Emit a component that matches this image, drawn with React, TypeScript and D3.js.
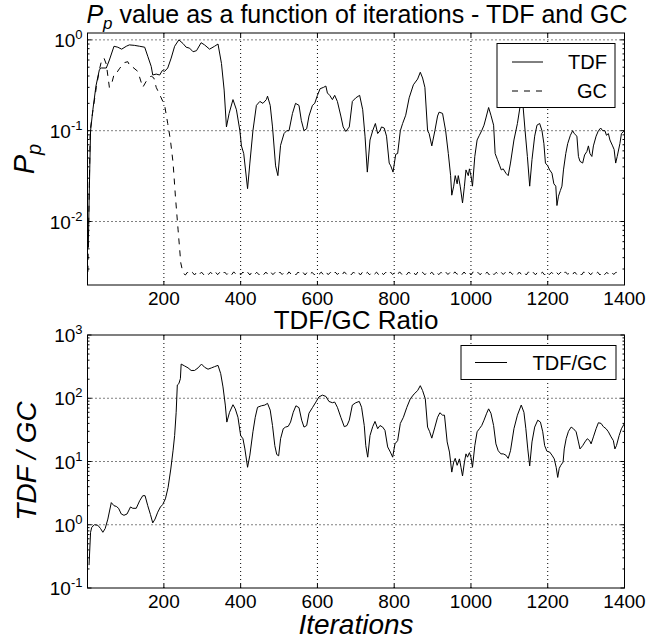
import React from "react";
import * as d3 from "d3";

// ---------------- data ----------------
const tdfIter = [3, 6, 9, 15, 23, 32, 37, 50, 58, 70, 80, 90, 102, 110, 123, 137, 150, 158, 167, 171, 180, 189, 196, 202, 210, 219, 228, 239, 250, 258, 267, 276, 285, 297, 306, 319, 332, 341, 350, 357, 363, 370, 380, 389, 398, 402, 408, 418, 424, 432, 441, 450, 458, 467, 470, 477, 483, 491, 497, 504, 513, 520, 526, 535, 543, 552, 558, 565, 572, 578, 587, 593, 600, 607, 616, 622, 626, 632, 639, 645, 652, 661, 667, 674, 683, 691, 700, 710, 718, 724, 730, 737, 744, 751, 757, 763, 767, 774, 780, 787, 791, 797, 804, 809, 816, 822, 830, 839, 850, 861, 868, 874, 880, 887, 891, 898, 906, 913, 917, 926, 934, 941, 947, 950, 955, 959, 964, 967, 972, 978, 983, 987, 993, 996, 1000, 1004, 1010, 1016, 1022, 1028, 1034, 1039, 1046, 1052, 1059, 1063, 1069, 1075, 1079, 1084, 1091, 1097, 1103, 1112, 1121, 1130, 1136, 1141, 1147, 1153, 1159, 1166, 1172, 1179, 1185, 1190, 1194, 1200, 1205, 1211, 1216, 1221, 1224, 1228, 1233, 1237, 1241, 1247, 1252, 1259, 1265, 1269, 1276, 1280, 1284, 1291, 1296, 1302, 1306, 1310, 1315, 1319, 1326, 1332, 1338, 1343, 1349, 1353, 1358, 1362, 1369, 1373, 1377, 1381, 1388, 1392, 1400];
const tdfValue = [0.0052, 0.025, 0.10, 0.17, 0.31, 0.47, 0.49, 0.49, 0.60, 0.85, 0.83, 0.79, 0.85, 0.88, 0.87, 0.85, 0.83, 0.66, 0.51, 0.41, 0.42, 0.41, 0.46, 0.45, 0.49, 0.63, 0.85, 1.0, 0.91, 0.83, 0.81, 0.74, 0.76, 0.93, 0.88, 0.79, 0.85, 0.90, 0.55, 0.28, 0.11, 0.155, 0.22, 0.17, 0.10, 0.068, 0.056, 0.023, 0.044, 0.10, 0.19, 0.21, 0.20, 0.22, 0.24, 0.19, 0.11, 0.041, 0.032, 0.069, 0.093, 0.10, 0.10, 0.155, 0.20, 0.19, 0.13, 0.10, 0.105, 0.145, 0.19, 0.20, 0.245, 0.29, 0.30, 0.31, 0.26, 0.245, 0.22, 0.245, 0.21, 0.145, 0.11, 0.098, 0.11, 0.21, 0.23, 0.245, 0.17, 0.087, 0.035, 0.079, 0.10, 0.12, 0.093, 0.10, 0.11, 0.107, 0.087, 0.044, 0.041, 0.035, 0.055, 0.056, 0.10, 0.12, 0.148, 0.23, 0.32, 0.37, 0.44, 0.38, 0.30, 0.10, 0.093, 0.068, 0.10, 0.145, 0.16, 0.155, 0.10, 0.056, 0.032, 0.0195, 0.0245, 0.032, 0.026, 0.032, 0.0245, 0.016, 0.0245, 0.037, 0.032, 0.038, 0.032, 0.0245, 0.052, 0.079, 0.089, 0.10, 0.115, 0.138, 0.18, 0.148, 0.115, 0.056, 0.048, 0.041, 0.037, 0.038, 0.034, 0.032, 0.044, 0.079, 0.12, 0.21, 0.18, 0.10, 0.052, 0.0245, 0.048, 0.087, 0.115, 0.12, 0.10, 0.072, 0.044, 0.041, 0.037, 0.034, 0.026, 0.0245, 0.015, 0.019, 0.022, 0.0245, 0.037, 0.056, 0.072, 0.089, 0.10, 0.093, 0.087, 0.052, 0.046, 0.044, 0.054, 0.059, 0.068, 0.056, 0.052, 0.068, 0.087, 0.10, 0.107, 0.10, 0.10, 0.089, 0.093, 0.079, 0.068, 0.062, 0.044, 0.052, 0.072, 0.093, 0.10];

const gcIter = [2, 5, 8, 15, 24, 32, 38, 44, 50, 58, 64, 71, 78, 84, 96, 106, 113, 119, 132, 145, 154, 167, 174, 180, 193, 202, 210, 217, 224, 230, 237, 244, 250, 256, 262, 268, 274, 280, 286, 292, 298, 304, 310, 316, 322, 328, 334, 340, 346, 352, 358, 364, 370, 376, 382, 388, 394, 400, 406, 412, 418, 424, 430, 436, 442, 448, 454, 460, 466, 472, 478, 484, 490, 496, 502, 508, 514, 520, 526, 532, 538, 544, 550, 556, 562, 568, 574, 580, 586, 592, 598, 604, 610, 616, 622, 628, 634, 640, 646, 652, 658, 664, 670, 676, 682, 688, 694, 700, 706, 712, 718, 724, 730, 736, 742, 748, 754, 760, 766, 772, 778, 784, 790, 796, 802, 808, 814, 820, 826, 832, 838, 844, 850, 856, 862, 868, 874, 880, 886, 892, 898, 904, 910, 916, 922, 928, 934, 940, 946, 952, 958, 964, 970, 976, 982, 988, 994, 1000, 1006, 1012, 1018, 1024, 1030, 1036, 1042, 1048, 1054, 1060, 1066, 1072, 1078, 1084, 1090, 1096, 1102, 1108, 1114, 1120, 1126, 1132, 1138, 1144, 1150, 1156, 1162, 1168, 1174, 1180, 1186, 1192, 1198, 1204, 1210, 1216, 1222, 1228, 1234, 1240, 1246, 1252, 1258, 1264, 1270, 1276, 1282, 1288, 1294, 1300, 1306, 1312, 1318, 1324, 1330, 1336, 1342, 1348, 1354, 1360, 1366, 1372, 1378, 1384, 1390, 1396, 1400];
const gcValue = [0.0028, 0.016, 0.10, 0.166, 0.30, 0.47, 0.60, 0.63, 0.54, 0.30, 0.33, 0.43, 0.44, 0.48, 0.56, 0.575, 0.50, 0.50, 0.45, 0.30, 0.35, 0.40, 0.38, 0.30, 0.23, 0.19, 0.12, 0.079, 0.044, 0.019, 0.0081, 0.0035, 0.0027,
  0.00258, 0.00278, 0.00262, 0.00276, 0.00258, 0.00279, 0.00261, 0.00277, 0.00259, 0.00278, 0.00262, 0.00276, 0.00258, 0.00279, 0.00260, 0.00277, 0.00259, 0.00278, 0.00261, 0.00277, 0.00258, 0.00279, 0.00262, 0.00276, 0.00259, 0.00278, 0.00260, 0.00277, 0.00258, 0.00279, 0.00261, 0.00276, 0.00259, 0.00278, 0.00262, 0.00277, 0.00258, 0.00279, 0.00260, 0.00276, 0.00259, 0.00278, 0.00261, 0.00277, 0.00258, 0.00279, 0.00262, 0.00276,
  0.00259, 0.00278, 0.00260, 0.00277, 0.00258, 0.00279, 0.00261, 0.00276, 0.00259, 0.00278, 0.00262, 0.00277, 0.00258, 0.00279, 0.00260, 0.00276, 0.00259, 0.00278, 0.00261, 0.00277, 0.00258, 0.00279, 0.00262, 0.00276, 0.00259, 0.00278, 0.00260, 0.00277, 0.00258, 0.00279, 0.00261, 0.00276, 0.00259, 0.00278, 0.00262, 0.00277, 0.00258, 0.00279, 0.00260, 0.00276, 0.00259, 0.00278, 0.00261, 0.00277, 0.00258, 0.00279, 0.00262, 0.00276, 0.00259, 0.00278, 0.00260, 0.00277,
  0.00258, 0.00279, 0.00261, 0.00276, 0.00259, 0.00278, 0.00262, 0.00277, 0.00258, 0.00279, 0.00260, 0.00276, 0.00259, 0.00278, 0.00261, 0.00277, 0.00258, 0.00279, 0.00262, 0.00276, 0.00259, 0.00278, 0.00260, 0.00277, 0.00258, 0.00279, 0.00261, 0.00276, 0.00259, 0.00278, 0.00262, 0.00277, 0.00258, 0.00279, 0.00260, 0.00276, 0.00259, 0.00278, 0.00261, 0.00277, 0.00258, 0.00279, 0.00262, 0.00276, 0.00259, 0.00278, 0.00260, 0.00277, 0.00258, 0.00279, 0.00261, 0.00276,
  0.00259, 0.00278, 0.00262, 0.00277, 0.00258, 0.00279, 0.00260, 0.00276, 0.00259, 0.00278, 0.00261, 0.00277, 0.00258, 0.00279, 0.00262, 0.00276, 0.00259, 0.00278, 0.00260, 0.00277, 0.00258, 0.00279, 0.00261, 0.00276, 0.00259, 0.00278, 0.00262, 0.00277, 0.00258, 0.00279, 0.00260, 0.00276, 0.00259, 0.00278, 0.00261, 0.00277, 0.00268];

const ratioIter = [5, 9, 12, 19, 28, 35, 41, 47, 54, 63, 70, 76, 82, 89, 96, 104, 113, 119, 128, 137, 145, 151, 158, 165, 171, 177, 184, 191, 197, 204, 211, 218, 224, 228, 232, 235, 239, 243, 245, 254, 263, 271, 280, 289, 298, 306, 315, 324, 332, 341, 348, 354, 360, 364, 371, 380, 386, 393, 400, 406, 411, 418, 424, 432, 438, 444, 454, 463, 470, 477, 483, 489, 494, 499, 504, 511, 517, 524, 530, 537, 544, 552, 559, 565, 572, 578, 587, 596, 604, 613, 622, 630, 639, 645, 652, 661, 670, 677, 683, 691, 700, 709, 715, 722, 726, 731, 737, 744, 750, 757, 763, 770, 776, 783, 790, 796, 802, 809, 816, 824, 833, 842, 852, 861, 868, 874, 881, 887, 892, 898, 906, 913, 919, 926, 931, 938, 944, 950, 955, 959, 964, 970, 974, 978, 983, 987, 991, 996, 1000, 1004, 1010, 1016, 1022, 1028, 1034, 1041, 1046, 1052, 1059, 1065, 1071, 1078, 1084, 1091, 1097, 1103, 1112, 1121, 1131, 1138, 1143, 1148, 1153, 1159, 1166, 1174, 1181, 1187, 1192, 1198, 1205, 1211, 1217, 1222, 1226, 1230, 1234, 1240, 1243, 1248, 1254, 1261, 1267, 1274, 1280, 1284, 1291, 1297, 1303, 1309, 1313, 1319, 1326, 1332, 1339, 1345, 1352, 1358, 1365, 1371, 1375, 1379, 1386, 1392, 1400];
const ratioValue = [0.23, 0.76, 0.91, 1.0, 0.98, 0.87, 0.76, 0.87, 1.23, 2.24, 2.0, 1.95, 1.82, 1.48, 1.41, 1.48, 1.91, 1.82, 1.82, 2.4, 2.88, 2.88, 2.0, 1.45, 1.07, 1.23, 1.58, 1.91, 2.09, 2.57, 3.89, 7.6, 15.1, 25.7, 60, 162, 170, 204, 347, 324, 302, 275, 275, 302, 347, 309, 288, 302, 316, 331, 245, 151, 78, 42, 60, 79, 68, 50, 25.7, 22.9, 15.8, 8.1, 12.6, 29.5, 50, 72, 76, 78, 83, 65, 37, 17.8, 12.9, 12.3, 22.9, 33, 35, 36, 42, 60, 76, 71, 45, 35, 37, 58, 71, 87, 105, 112, 107, 89, 85, 87, 72, 50, 35.5, 37, 45, 78, 85, 89, 72, 37, 17.8, 11.7, 25.7, 35.5, 43, 33, 37, 35, 31, 17, 14.1, 11.7, 19, 21.4, 40, 50, 72, 98, 117, 132, 158, 132, 98, 35, 30, 23.4, 35, 50, 59, 54, 54, 20.4, 14.1, 6.8, 9.8, 11.2, 8.7, 11, 8.1, 5.9, 9.8, 13.2, 11.7, 13.8, 11.7, 8.1, 17.8, 29.5, 33, 37, 45, 58, 68, 58, 37, 19, 14.8, 13.2, 13.2, 12.6, 11.2, 14.8, 33, 54, 78, 60, 33, 15.8, 8.5, 20.4, 35, 45, 42, 29.5, 17.8, 14.5, 14.1, 12.6, 11, 8.1, 5.6, 7.8, 8.7, 9.8, 15.8, 22.9, 30, 35, 33, 29.5, 20.4, 15.8, 17.8, 20.4, 22.9, 21.4, 19, 24.5, 33, 41, 40, 35.5, 33, 29.5, 24.5, 21.4, 15.8, 17.8, 25.7, 33, 40];

const xTicks = [200, 400, 600, 800, 1000, 1200, 1400];
const topDecades = [-2, -1, 0];
const bottomDecades = [-1, 0, 1, 2, 3];
const mainTitle = "value as a function of iterations - TDF and GC";
const ratioTitle = "TDF/GC Ratio";
const xLabel = "Iterations";
const ratioYLabel = "TDF / GC";
const legendTop = ["TDF", "GC"];
const legendBottom = ["TDF/GC"];

// ---------------- layout ----------------
const W = 649;
const H = 639;
const LEFT = 87.5;
const RIGHT = 624.5;
const FONT = '"Liberation Sans", Arial, "DejaVu Sans", sans-serif';
const fontStyle = { fontFamily: FONT };

const x = d3.scaleLinear().domain([1, 1400]).range([LEFT, RIGHT]);

type Panel = { top: number; bottom: number; y: d3.ScaleLogarithmic<number, number>; decades: number[] };

const topPanel: Panel = {
  top: 33,
  bottom: 285,
  y: d3.scaleLog().domain([0.002, 1.19]).range([285, 33]),
  decades: topDecades,
};
const botPanel: Panel = {
  top: 335,
  bottom: 588,
  y: d3.scaleLog().domain([0.1, 1000]).range([588, 335]),
  decades: bottomDecades,
};

function Axes({ p }: { p: Panel }) {
  const [d0, d1] = p.y.domain();
  const minor: number[] = [];
  for (let e = Math.floor(Math.log10(d0)); e <= Math.ceil(Math.log10(d1)); e++) {
    for (let m = 2; m <= 9; m++) {
      const v = m * Math.pow(10, e);
      if (v > d0 && v < d1) minor.push(v);
    }
  }
  const majors = p.decades.map((e) => Math.pow(10, e));
  return (
    <g>
      {xTicks.filter((t) => t < 1400).map((t) => (
        <line key={"gx" + t} x1={x(t)} x2={x(t)} y1={p.top} y2={p.bottom} stroke="#000" strokeWidth={1} strokeDasharray="1,3" />
      ))}
      {majors.filter((v) => p.y(v) > p.top + 1 && p.y(v) < p.bottom - 1).map((v) => (
        <line key={"gy" + v} x1={LEFT} x2={RIGHT} y1={p.y(v)} y2={p.y(v)} stroke="#000" strokeWidth={1} strokeDasharray="1,3" />
      ))}
      {xTicks.map((t) => (
        <g key={"xt" + t}>
          <line x1={x(t)} x2={x(t)} y1={p.bottom} y2={p.bottom - 4} stroke="#000" />
          <line x1={x(t)} x2={x(t)} y1={p.top} y2={p.top + 4} stroke="#000" />
        </g>
      ))}
      {majors.map((v) => (
        <g key={"ym" + v}>
          <line x1={LEFT} x2={LEFT + 4} y1={p.y(v)} y2={p.y(v)} stroke="#000" />
          <line x1={RIGHT} x2={RIGHT - 4} y1={p.y(v)} y2={p.y(v)} stroke="#000" />
        </g>
      ))}
      {minor.map((v) => (
        <g key={"yn" + v}>
          <line x1={LEFT} x2={LEFT + 2} y1={p.y(v)} y2={p.y(v)} stroke="#000" />
          <line x1={RIGHT} x2={RIGHT - 2} y1={p.y(v)} y2={p.y(v)} stroke="#000" />
        </g>
      ))}
      {xTicks.map((t) => (
        <text key={"xl" + t} x={x(t)} y={p.bottom + 20} textAnchor="middle" style={fontStyle} fontSize={19}>
          {t}
        </text>
      ))}
      {p.decades.map((e) => (
        <text key={"yl" + e} x={LEFT - 5} y={p.y(Math.pow(10, e)) + 7} textAnchor="end" style={fontStyle} fontSize={19}>
          <tspan>10</tspan>
          <tspan dy={-8} fontSize={13}>{e < 0 ? "-" + Math.abs(e) : String(e)}</tspan>
        </text>
      ))}
    </g>
  );
}

export default function App() {
  const tdf = tdfIter.map((t, i) => [t, tdfValue[i]] as [number, number]);
  const gc = gcIter.map((t, i) => [t, gcValue[i]] as [number, number]);
  const ratio = ratioIter.map((t, i) => [t, ratioValue[i]] as [number, number]);

  const lineTop = d3.line<[number, number]>().x((d) => x(d[0])).y((d) => topPanel.y(d[1]));
  const lineBot = d3.line<[number, number]>().x((d) => x(d[0])).y((d) => botPanel.y(d[1]));

  return (
    <svg width={W} height={H} style={{ position: "absolute", left: 0, top: 0, background: "#fff" }}>
      <rect x={0} y={0} width={W} height={H} fill="#fff" />
      <defs>
        <clipPath id="clipTop">
          <rect x={LEFT} y={topPanel.top} width={RIGHT - LEFT} height={topPanel.bottom - topPanel.top} />
        </clipPath>
        <clipPath id="clipBot">
          <rect x={LEFT} y={botPanel.top} width={RIGHT - LEFT} height={botPanel.bottom - botPanel.top} />
        </clipPath>
      </defs>

      {/* ---- top panel ---- */}
      <Axes p={topPanel} />
      <g clipPath="url(#clipTop)">
        <path d={lineTop(gc) || ""} fill="none" stroke="#000" strokeWidth={1} strokeDasharray="6,6" />
        <path d={lineTop(tdf) || ""} fill="none" stroke="#000" strokeWidth={1} />
      </g>
      <rect x={LEFT} y={topPanel.top} width={RIGHT - LEFT} height={topPanel.bottom - topPanel.top} fill="none" stroke="#000" strokeWidth={1} />
      <g>
        <rect x={497} y={43.5} width={118} height={64} fill="#fff" stroke="#000" strokeWidth={1} />
        <line x1={512} x2={543} y1={62} y2={62} stroke="#000" />
        <text x={607} y={69} textAnchor="end" style={fontStyle} fontSize={20}>{legendTop[0]}</text>
        <line x1={512} x2={543} y1={91} y2={91} stroke="#000" strokeDasharray="6,6" />
        <text x={607} y={98} textAnchor="end" style={fontStyle} fontSize={20}>{legendTop[1]}</text>
      </g>
      <text x={357} y={23} textAnchor="middle" style={fontStyle} fontSize={25}>
        <tspan fontStyle="italic">P</tspan>
        <tspan fontStyle="italic" fontSize={17} dy={6}>p</tspan>
        <tspan dy={-6}>{" " + mainTitle}</tspan>
      </text>
      <text transform="translate(34,159) rotate(-90)" textAnchor="middle" style={fontStyle} fontSize={29}>
        <tspan fontStyle="italic">P</tspan>
        <tspan fontStyle="italic" fontSize={20} dy={7}>p</tspan>
      </text>

      {/* ---- bottom panel ---- */}
      <Axes p={botPanel} />
      <g clipPath="url(#clipBot)">
        <path d={lineBot(ratio) || ""} fill="none" stroke="#000" strokeWidth={1} />
      </g>
      <rect x={LEFT} y={botPanel.top} width={RIGHT - LEFT} height={botPanel.bottom - botPanel.top} fill="none" stroke="#000" strokeWidth={1} />
      <g>
        <rect x={461} y={345.5} width={155} height={34} fill="#fff" stroke="#000" strokeWidth={1} />
        <line x1={475} x2={507} y1={362.5} y2={362.5} stroke="#000" />
        <text x={607} y={369.5} textAnchor="end" style={fontStyle} fontSize={20}>{legendBottom[0]}</text>
      </g>
      <text x={356} y={329} textAnchor="middle" style={fontStyle} fontSize={26}>{ratioTitle}</text>
      <text transform="translate(36,461) rotate(-90)" textAnchor="middle" style={fontStyle} fontSize={28} fontStyle="italic">
        {ratioYLabel}
      </text>
      <text x={356} y={634} textAnchor="middle" style={fontStyle} fontSize={28} fontStyle="italic">{xLabel}</text>
    </svg>
  );
}
